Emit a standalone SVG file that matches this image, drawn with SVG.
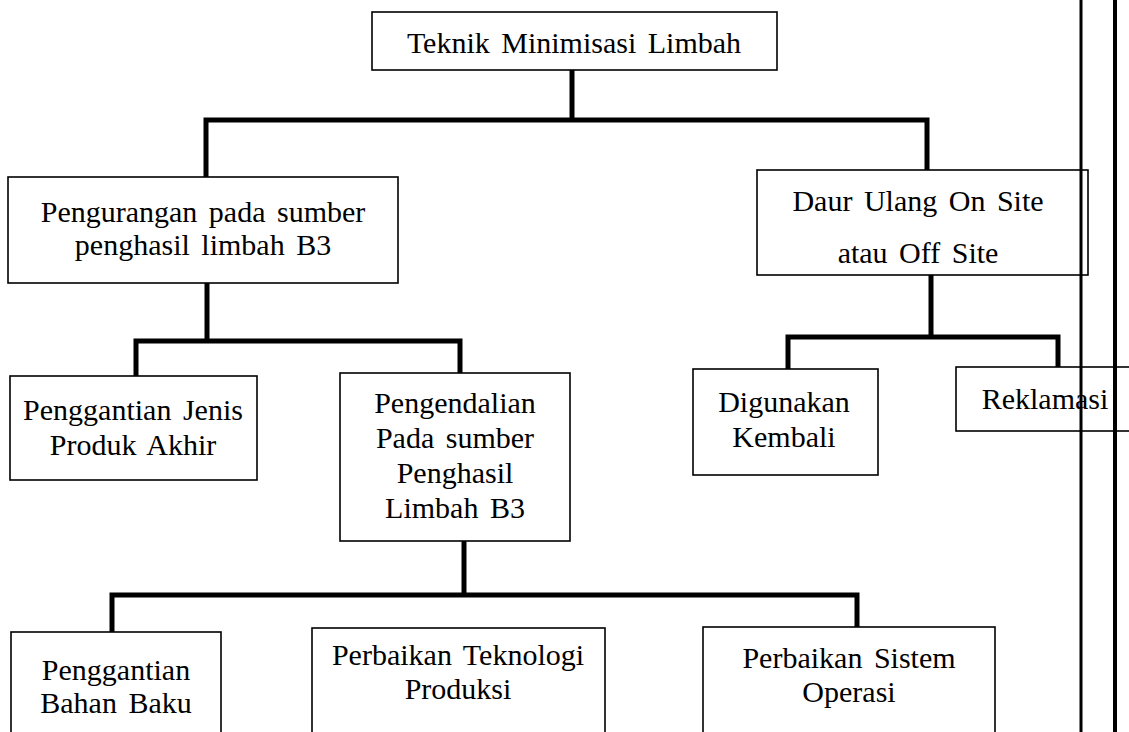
<svg xmlns="http://www.w3.org/2000/svg" width="1129" height="732" viewBox="0 0 1129 732">
<style>
.box{fill:#fff;stroke:#000;stroke-width:1.6}
.t{font-family:"Liberation Serif","Times New Roman",serif;font-size:30px;fill:#000;text-anchor:middle;word-spacing:4px}
.c{fill:none;stroke:#000;stroke-width:5;stroke-linejoin:miter;stroke-linecap:butt}
.rule{stroke:#000;fill:none}
</style>
<rect width="1129" height="732" fill="#fff"/>
<g id="connectors">
<polyline class="c" points="572,70 572,120"/>
<polyline class="c" points="206,177 206,120 927,120 927,170"/>
<polyline class="c" points="207,283 207,341"/>
<polyline class="c" points="136,376 136,341 460,341 460,373"/>
<polyline class="c" points="931,275 931,337"/>
<polyline class="c" points="788,369 788,337 1058,337 1058,367"/>
<polyline class="c" points="464,541 464,595"/>
<polyline class="c" points="112,632 112,595 857,595 857,627"/>
</g>
<g id="n-root"><rect class="box" x="372" y="12" width="405" height="58"/><text class="t" x="574" y="53">Teknik Minimisasi Limbah</text></g>
<g id="n-pengurangan"><rect class="box" x="8" y="177" width="390" height="106"/><text class="t" x="203" y="222">Pengurangan pada sumber</text><text class="t" x="203" y="255">penghasil limbah B3</text></g>
<g id="n-daur"><rect class="box" x="757" y="170" width="331" height="105"/><text class="t" x="918" y="211">Daur Ulang On Site</text><text class="t" x="918" y="263">atau Off Site</text></g>
<g id="n-jenis"><rect class="box" x="10" y="376" width="247" height="104"/><text class="t" x="133" y="420">Penggantian Jenis</text><text class="t" x="133" y="455">Produk Akhir</text></g>
<g id="n-pengendalian"><rect class="box" x="340" y="373" width="230" height="168"/><text class="t" x="455" y="413">Pengendalian</text><text class="t" x="455" y="448">Pada sumber</text><text class="t" x="455" y="483">Penghasil</text><text class="t" x="455" y="518">Limbah B3</text></g>
<g id="n-digunakan"><rect class="box" x="693" y="369" width="185" height="106"/><text class="t" x="784" y="412">Digunakan</text><text class="t" x="784" y="447">Kembali</text></g>
<g id="n-reklamasi"><rect class="box" x="956" y="367" width="180" height="64"/><text class="t" x="1045" y="409">Reklamasi</text></g>
<g id="n-bahan"><rect class="box" x="11" y="632" width="210" height="110"/><text class="t" x="116" y="680">Penggantian</text><text class="t" x="116" y="713">Bahan Baku</text></g>
<g id="n-teknologi"><rect class="box" x="312" y="628" width="293" height="114"/><text class="t" x="458" y="665">Perbaikan Teknologi</text><text class="t" x="458" y="699">Produksi</text></g>
<g id="n-sistem"><rect class="box" x="703" y="627" width="292" height="115"/><text class="t" x="849" y="668">Perbaikan Sistem</text><text class="t" x="849" y="702">Operasi</text></g>
<g id="margin">
<line class="rule" x1="1081" y1="0" x2="1081" y2="732" stroke-width="3"/>
<line class="rule" x1="1115" y1="0" x2="1115" y2="732" stroke-width="4"/>
</g>
</svg>
